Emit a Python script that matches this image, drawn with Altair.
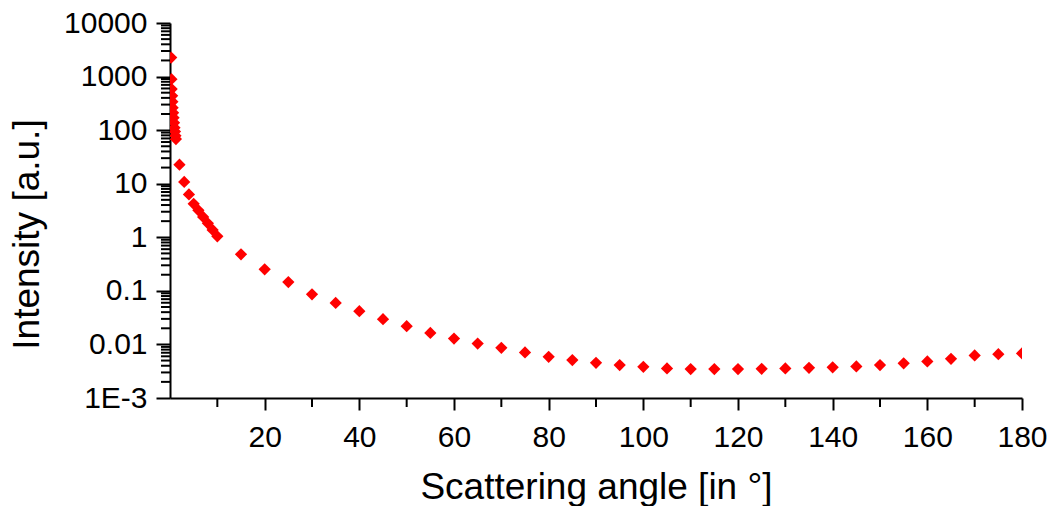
import altair as alt
import pandas as pd

# Scattering angle (degrees) and intensity (a.u.)
angles = [0.25, 0.3, 0.35, 0.45, 0.5, 0.55, 0.65, 0.75, 0.85, 0.95, 1.05, 1.15, 1.25,
          2, 3, 4, 5, 6, 7, 8, 9, 10,
          15, 20, 25, 30, 35, 40, 45, 50, 55, 60, 65, 70, 75, 80, 85, 90,
          95, 100, 105, 110, 115, 120, 125, 130, 135, 140, 145, 150, 155,
          160, 165, 170, 175, 180]
intensity = [2260, 896, 583, 438, 339, 262, 211, 171, 138, 111, 94, 79, 68,
             22.7, 10.8, 6.3, 4.22, 3.19, 2.40, 1.82, 1.37, 1.04,
             0.48, 0.252, 0.146, 0.0864, 0.0595, 0.0417, 0.0296, 0.0219, 0.0164,
             0.0129, 0.0104, 0.00864, 0.00709, 0.00587, 0.0051, 0.00454,
             0.00411, 0.00383, 0.00357, 0.00347, 0.00347, 0.00347, 0.00351,
             0.00357, 0.00366, 0.00373, 0.00389, 0.00411, 0.00443,
             0.00482, 0.00539, 0.00624, 0.00659, 0.0068]

x_tick_values = [20, 40, 60, 80, 100, 120, 140, 160, 180]
x_minor_values = [10, 30, 50, 70, 90, 110, 130, 150, 170]
y_tick_values = [0.001, 0.01, 0.1, 1, 10, 100, 1000, 10000]
y_tick_labels = ["1E-3", "0.01", "0.1", "1", "10", "100", "1000", "10000"]
y_minor_values = [m * d for d in [0.001, 0.01, 0.1, 1, 10, 100, 1000] for m in range(2, 10)]

FONT = "Liberation Sans"
W, H = 852, 375

df = pd.DataFrame({"angle": angles, "intensity": intensity})
xminor = pd.DataFrame({"angle": x_minor_values})
yminor = pd.DataFrame({"intensity": y_minor_values})

xscale = alt.Scale(domain=[0, 180], nice=False, zero=False)
yscale = alt.Scale(type="log", domain=[0.001, 10000], nice=False)

label_expr = "{}[indexof({}, datum.value)]".format(
    "[" + ",".join("'%s'" % s for s in y_tick_labels) + "]",
    "[" + ",".join(repr(v) for v in y_tick_values) + "]",
)

x_axis = alt.Axis(values=x_tick_values, title="Scattering angle [in °]",
                  tickSize=12, labelPadding=12, titlePadding=17)
y_axis = alt.Axis(values=y_tick_values, labelExpr=label_expr,
                  title="Intensity [a.u.]", titleY=211,
                  tickSize=14, labelPadding=9, titlePadding=17)

points = alt.Chart(df).mark_point(
    shape="diamond", filled=True, color="#FF0000", opacity=1, size=150, clip=True
).encode(
    x=alt.X("angle:Q", scale=xscale, axis=x_axis),
    y=alt.Y("intensity:Q", scale=yscale, axis=y_axis),
)

xminor_rules = alt.Chart(xminor).mark_rule(color="black", strokeWidth=2).encode(
    x=alt.X("angle:Q", scale=xscale, axis=x_axis),
    y=alt.value(H),
    y2=alt.value(H + 9),
)

yminor_rules = alt.Chart(yminor).mark_rule(color="black", strokeWidth=2).encode(
    y=alt.Y("intensity:Q", scale=yscale, axis=y_axis),
    x=alt.value(-9),
    x2=alt.value(0),
)

chart = alt.layer(points, xminor_rules, yminor_rules).properties(
    width=W, height=H,
    autosize=alt.AutoSizeParams(type="none"),
    padding={"left": 162, "top": 15, "right": 26, "bottom": 108},
    background="white",
).configure_view(stroke=None).configure_axis(
    domainColor="black", domainWidth=2, tickColor="black", tickWidth=2,
    grid=False, labelFont=FONT, labelFontSize=30, labelColor="black",
    titleFont=FONT, titleFontSize=37, titleFontWeight="normal", titleColor="black",
    labelFlush=False, labelOverlap=False,
)

chart.save("out.html", embed_options={"renderer": "svg", "actions": False})
